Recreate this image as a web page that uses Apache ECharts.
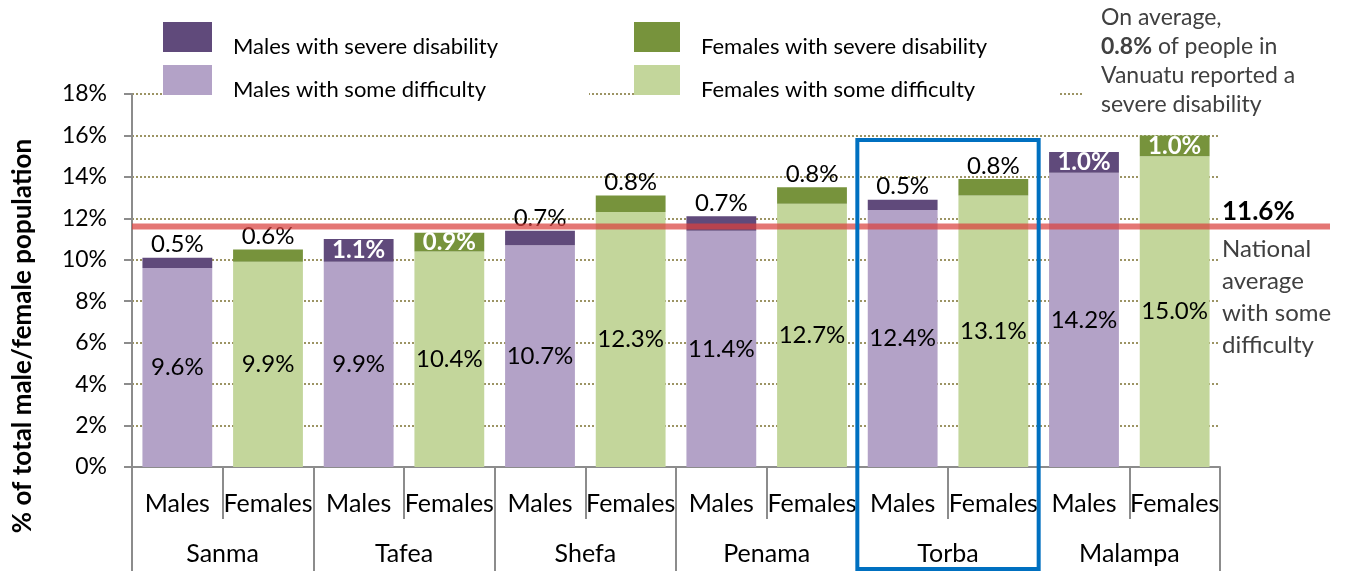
<!DOCTYPE html>
<html><head><meta charset="utf-8">
<script src="https://cdn.jsdelivr.net/npm/echarts@6/dist/echarts.min.js"></script>
<style>html,body{margin:0;padding:0;background:#fff}#c{width:1348px;height:571px}</style>
</head><body><div id="c"></div>
<script>
// ---- data ----
const regions = ['Sanma', 'Tafea', 'Shefa', 'Penama', 'Torba', 'Malampa'];
const sexes = ['Males', 'Females'];
const maleSome = [9.6, 9.9, 10.7, 11.4, 12.4, 14.2];
const maleSevere = [0.5, 1.1, 0.7, 0.7, 0.5, 1.0];
const femaleSome = [9.9, 10.4, 12.3, 12.7, 13.1, 15.0];
const femaleSevere = [0.6, 0.9, 0.8, 0.8, 0.8, 1.0];
const yMin = 0, yMax = 18, yStep = 2;
const nationalAvgSome = 11.6;
const nationalAvgSevere = 0.8;
const highlightRegion = 'Torba';
const seriesNames = ['Males with some difficulty', 'Females with some difficulty', 'Males with severe disability', 'Females with severe disability'];

// ---- build ----
const FONT = 'Lato';
const cats = [];
regions.forEach(r => sexes.forEach(s => cats.push(r + '|' + s)));
function spread(arr, slot) {
  const out = [];
  arr.forEach(v => { if (slot === 0) out.push(v, '-'); else out.push('-', v); });
  return out;
}
function severeData(arr, slot) {
  return spread(arr, slot).map(v => {
    if (v === '-') return v;
    const inside = v >= 0.9;
    return {
      value: v,
      label: inside
        ? { position: 'inside', color: '#fff', fontWeight: 'bold' }
        : { position: 'top', distance: 1, color: '#000', fontWeight: 'normal' }
    };
  });
}
const fmt = p => (typeof p.value === 'number' ? p.value.toFixed(1) + '%' : '');
const baseLabel = { show: true, fontFamily: FONT, fontSize: 24, formatter: fmt };
const colors = { mSome: '#b3a2c7', fSome: '#c3d69b', mSev: '#604a7b', fSev: '#77933c' };

const gridLeft = 132, gridRight = 128, gridTop = 94, gridBottom = 104;
const legendText = {
  fontFamily: FONT, fontSize: 22, color: '#000', padding: [0, 0, 0, 16],
  rich: { t: { fontFamily: FONT, fontSize: 22, color: '#000', padding: [20, 0, 0, 0] } }
};
const legendFmt = name => '{t|' + name + '}';

const option = {
  animation: false,
  backgroundColor: '#fff',
  grid: { left: gridLeft, right: gridRight, top: gridTop, bottom: gridBottom },
  legend: [
    { data: [seriesNames[2], seriesNames[0]], orient: 'vertical', left: 163, top: 22, itemWidth: 49, itemHeight: 30, itemGap: 7, icon: 'rect', textStyle: legendText, formatter: legendFmt, padding: 0, selectedMode: false },
    { data: [seriesNames[3], seriesNames[1]], orient: 'vertical', left: 634, top: 22, itemWidth: 46, itemHeight: 30, itemGap: 7, icon: 'rect', textStyle: legendText, formatter: legendFmt, padding: 0, selectedMode: false }
  ],
  xAxis: [
    {
      type: 'category', data: cats, position: 'bottom',
      axisLine: { show: true, lineStyle: { color: '#8c8c8c', width: 2 } },
      axisTick: { show: true, interval: 0, length: 52, lineStyle: { color: '#8c8c8c', width: 2 } },
      axisLabel: { interval: 0, margin: 24, fontFamily: FONT, fontSize: 25, color: '#000', formatter: v => v.split('|')[1] }
    },
    {
      type: 'category', data: regions, position: 'bottom',
      axisLine: { show: false },
      axisTick: { show: true, interval: 0, length: 104, lineStyle: { color: '#8c8c8c', width: 2 } },
      axisLabel: { interval: 0, margin: 74, fontFamily: FONT, fontSize: 25, color: '#000' }
    }
  ],
  yAxis: {
    type: 'value', min: yMin, max: yMax, interval: yStep,
    axisLine: { show: true, lineStyle: { color: '#8c8c8c', width: 2 } },
    axisTick: { show: true, length: 8, lineStyle: { color: '#8c8c8c', width: 2 } },
    axisLabel: { margin: 25, fontFamily: FONT, fontSize: 23, color: '#000', formatter: '{value}%' },
    splitLine: { show: true, lineStyle: { color: '#9c9464', width: 2, type: [2, 2] } }
  },
  series: [
    { name: seriesNames[0], type: 'bar', stack: 'all', data: spread(maleSome, 0), barCategoryGap: '23%', itemStyle: { color: colors.mSome }, label: Object.assign({ position: 'inside', color: '#000' }, baseLabel) },
    { name: seriesNames[1], type: 'bar', stack: 'all', data: spread(femaleSome, 1), itemStyle: { color: colors.fSome }, label: Object.assign({ position: 'inside', color: '#000' }, baseLabel) },
    { name: seriesNames[2], type: 'bar', stack: 'all', data: severeData(maleSevere, 0), itemStyle: { color: colors.mSev }, label: Object.assign({}, baseLabel) },
    { name: seriesNames[3], type: 'bar', stack: 'all', data: severeData(femaleSevere, 1), itemStyle: { color: colors.fSev }, label: Object.assign({}, baseLabel) }
  ]
};

const chart = echarts.init(document.getElementById('c'), null, { renderer: 'canvas' });
chart.setOption(option);

// ---- annotations positioned through the scales ----
const yAvg = chart.convertToPixel({ yAxisIndex: 0 }, nationalAvgSome);
const hi = regions.indexOf(highlightRegion);
const cHi = chart.convertToPixel({ xAxisIndex: 1 }, regions[hi]);
const cPrev = chart.convertToPixel({ xAxisIndex: 1 }, regions[hi - 1]);
const band = cHi - cPrev;
const gridX0 = chart.convertToPixel({ xAxisIndex: 1 }, regions[0]) - band / 2;
const gridX1 = chart.convertToPixel({ xAxisIndex: 1 }, regions[regions.length - 1]) + band / 2;
const yTop = chart.convertToPixel({ yAxisIndex: 0 }, yMax);

chart.setOption({
  graphic: [
    // masks over the top gridline where the legend boxes sit (below legend text)
    { type: 'rect', z: 1, shape: { x: 163, y: yTop - 3, width: 426, height: 6 }, style: { fill: '#fff' } },
    { type: 'rect', z: 1, shape: { x: 680, y: yTop - 3, width: 378, height: 6 }, style: { fill: '#fff' } },
    { type: 'rect', z: 1, shape: { x: 1084, y: yTop - 3, width: gridX1 - 1084 + 3, height: 6 }, style: { fill: '#fff' } },
    // national average line
    { type: 'line', z: 60, shape: { x1: gridX0, y1: yAvg, x2: 1330, y2: yAvg }, style: { stroke: '#d9413f', lineWidth: 6, opacity: 0.72 } },
    { type: 'text', z: 61, x: gridX1 + 2, y: yAvg - 2, style: { text: nationalAvgSome.toFixed(1) + '%', fontFamily: FONT, fontSize: 26, fontWeight: 'bold', fill: '#000', textVerticalAlign: 'bottom' } },
    { type: 'text', z: 61, x: gridX1 + 2, y: yAvg + 7, style: { text: 'National\naverage\nwith some\ndifficulty', fontFamily: FONT, fontSize: 24, lineHeight: 32, fill: '#404040' } },
    // highlight box
    { type: 'rect', z: 70, shape: { x: cHi - band / 2, y: 140, width: band, height: 569 - 140 }, style: { fill: 'none', stroke: '#0070c0', lineWidth: 4 } },
    // severe disability note
    { type: 'text', z: 61, x: 1101, y: 3, style: { text: 'On average,\n{b|' + nationalAvgSevere.toFixed(1) + '%} of people in\nVanuatu reported a\nsevere disability', fontFamily: FONT, fontSize: 23, lineHeight: 29, fill: '#404040', rich: { b: { fontFamily: FONT, fontSize: 23, fontWeight: 'bold', fill: '#404040', lineHeight: 29 } } } },
    // y axis title
    { type: 'text', z: 61, x: 23, y: 336, rotation: Math.PI / 2, style: { text: '% of total male/female population', fontFamily: FONT, fontSize: 26, fontWeight: 'bold', fill: '#000', textAlign: 'center', textVerticalAlign: 'middle' } }
  ]
});
</script>
</body></html>
